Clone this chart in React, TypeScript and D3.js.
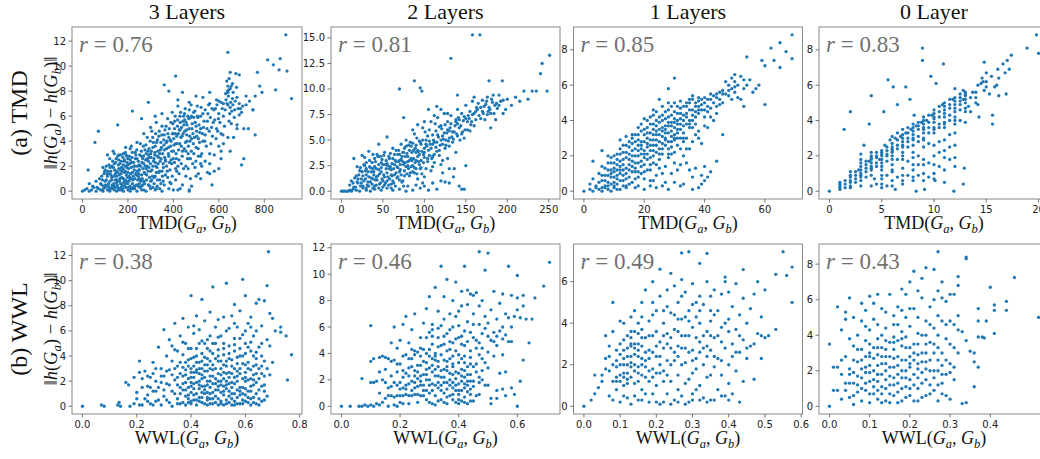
import React from "react";
import * as d3 from "d3";

// constants
const width = 1040;
const height = 459;
const dotColour = "#1f77b4";
const serif = "'Liberation Serif', 'Times New Roman', serif";
const sans = "'DejaVu Sans', sans-serif";

// column titles and row labels
const columnTitles = ["3 Layers", "2 Layers", "1 Layers", "0 Layer"];
const rowLabels = ["(a) TMD", "(b) WWL"];
const rowMetric = ["TMD", "WWL"];
const correlations = ["0.76", "0.81", "0.85", "0.83", "0.38", "0.46", "0.49", "0.43"];

// tick values per panel
const xTicksTmd3 = [0, 200, 400, 600, 800];
const xTicksTmd2 = [0, 50, 100, 150, 200, 250];
const xTicksTmd1 = [0, 20, 40, 60];
const xTicksTmd0 = [0, 5, 10, 15, 20];
const xTicksWwl3 = [0, 0.2, 0.4, 0.6, 0.8];
const xTicksWwl2 = [0, 0.2, 0.4, 0.6];
const xTicksWwl1 = [0, 0.1, 0.2, 0.3, 0.4, 0.5, 0.6];
const xTicksWwl0 = [0, 0.1, 0.2, 0.3, 0.4];
const yTicksTmd3 = [0, 2, 4, 6, 8, 10, 12];
const yTicksTmd2 = [0, 2.5, 5, 7.5, 10, 12.5, 15];
const yTicksTmd1 = [0, 2, 4, 6, 8];
const yTicksTmd0 = [0, 2, 4, 6, 8];
const yTicksWwl3 = [0, 2, 4, 6, 8, 10, 12];
const yTicksWwl2 = [0, 2, 4, 6, 8, 10, 12];
const yTicksWwl1 = [0, 2, 4, 6];
const yTicksWwl0 = [0, 2, 4, 6, 8];

// data: [graph distance, embedding distance]
const tmd3: [number, number][] = [
  [0,0],[10,0.1],[20,0.2],[30,0],[40,0.1],[50,0.3],[60,0],[70,0.2],[80,0.1],[90,0],[100,0.3],[110,0.1],[120,0],[130,0.2],[140,0.1],[150,0],[160,0.2],[170,0.1],[180,0],[190,0.3],[200,0.1],[210,0],[220,0.2],[240,0],[260,0.1],[280,0],[300,0.2],[320,0.1],[350,0],[380,0.2],[420,0.1],[470,0],
  [30,0.6],[45,0.4],[60,0.8],[75,1.0],[85,0.5],[95,1.4],[100,0.8],[105,2.0],[110,1.2],[115,0.6],[120,2.6],[125,1.6],[130,0.9],[135,3.2],[140,2.2],[145,1.4],[150,0.7],[155,2.8],[160,1.8],[165,1.0],[170,2.4],[175,0.5],[180,3.0],[185,1.5],[190,2.0],[195,0.8],[200,2.6],[205,1.2],[210,3.4],[215,1.9],[220,0.6],[225,2.3],[230,1.0],[235,2.9],[240,1.6],[245,0.4],[250,2.1],[255,3.8],[260,1.3],[265,2.6],[270,0.8],[275,3.3],[280,1.8],[285,4.3],[290,2.4],[295,1.1],[300,3.0],[305,4.8],[310,2.0],[315,0.6],[320,3.6],[325,1.5],[330,4.1],[335,2.7],[340,0.9],[345,3.9],[350,5.2],[355,2.2],[360,4.5],[365,1.3],[370,3.4],[375,5.8],[380,2.8],[385,0.7],[390,4.0],[395,6.3],[400,3.2],[405,5.0],[410,1.8],[415,4.4],[420,6.8],[425,2.5],[430,5.5],[435,3.6],[440,0.5],[445,6.0],[450,4.8],[455,2.0],[460,5.3],[465,3.0],[470,6.5],[475,1.0],[480,4.2],[490,5.9],[500,3.5],[505,6.8],[510,2.8],[520,5.0],[530,6.2],[540,4.5],[550,1.5],[560,7.0],[565,3.8],[575,5.5],[585,6.6],[595,4.8],[600,7.2],[610,3.2],[620,6.0],[630,7.8],[635,8.8],[640,6.9],[645,9.0],[650,8.2],[655,5.4],[660,7.4],[670,6.5],[675,9.4],[680,5.0],[690,7.0],[700,6.3],[720,6.9],[735,7.2],[750,6.5],
  [90,1.9],[110,2.9],[130,0.3],[150,1.2],[160,2.9],[170,0.3],[180,1.0],[185,2.5],[195,1.9],[200,1.5],[210,0.4],[220,1.5],[230,2.0],[240,2.6],[250,1.0],[260,0.4],[270,2.2],[280,3.0],[290,0.5],[300,1.6],[310,3.5],[320,2.3],[330,0.9],[340,3.0],[350,1.6],[360,3.3],[370,2.0],[380,4.3],[390,2.5],[400,4.6],[410,3.8],[420,2.0],[430,4.9],[440,3.2],[450,5.7],[460,4.0],[470,2.6],[480,6.0],[490,3.0],[500,5.2],[510,4.2],[520,2.2],[530,4.0],[540,6.5],[550,5.6],[560,3.0],[570,6.6],[580,2.9],[590,5.0],[600,6.2],[610,4.6],[620,7.0],[640,7.9],[645,5.6],[650,6.7],[660,8.6],[665,4.3],[680,7.5],[690,6.1],[640,8.4],[650,9.5],
  [895,12.5],[640,11.1],[870,10.6],[815,10.5],[840,10.1],[900,9.6],[865,9.7],[770,9.5],[410,9.2],[360,8.5],[920,7.4],[760,7.6],[790,7.9],[780,8.4],[850,8.1],[750,6.5],[760,4.5],[700,2.1],[710,2.6],[610,2.6],[650,3.2],[220,6.4],[70,4.8],[55,3.9],[25,1.7],[155,5.3],[260,5.8],[290,7.1],[380,8.0],[470,7.1],[470,0.1],[570,0.5],[520,1.0],[480,0.4],[430,0.2],[390,0.6],[690,9.3],[680,5.3],[710,5.0],[720,7.6],[730,5.0],
  [85,1.2],[95,0.4],[105,0.9],[112,1.6],[118,0.3],[122,1.9],[128,1.1],[133,2.4],[138,0.6],[142,1.7],[148,2.6],[152,0.9],[158,2.1],[162,1.3],[168,0.6],[172,1.9],[178,2.7],[182,0.7],[188,1.6],[192,2.9],[198,1.1],[202,0.3],[208,2.2],[212,1.4],[218,2.7],[222,0.9],[228,1.7],[232,3.1],[238,0.5],[242,2.0],[248,1.4],[252,2.9],[258,0.8],[262,2.3],[268,3.6],[272,1.5],[278,2.5],[282,0.9],[288,3.2],[292,1.9],[298,4.0],[302,2.7],[308,1.2],[312,3.9],[318,2.9],[322,4.6],[328,1.9],[332,3.2],[338,4.8],[342,2.4],[348,3.5],[352,1.2],[358,4.1],[362,2.7],[368,5.2],[372,4.0],[378,3.0],[382,5.0],[388,3.6],[392,2.2],[398,5.4],[402,4.2],[408,6.0],[412,3.0],[418,5.2],[422,4.6],[428,3.8],[432,6.3],[438,4.4],[442,5.6],[448,3.4],[452,6.6],[458,4.9],[462,2.6],[468,5.8],[472,4.4],[478,6.9],[482,5.0],[488,3.8],[495,6.4],[502,4.8],[508,5.9],[515,3.9],[522,6.7],[528,4.6],[535,5.6],[545,3.6],[552,6.2],[558,4.8],[568,5.1],[578,6.5],[588,4.2],[598,5.8],[615,6.6],[625,5.2],[632,7.3],[638,8.0],[642,7.6],[648,6.2],[655,8.4],[662,6.9],[668,5.9],
  [120,0.1],[140,0.4],[160,0.1],[190,0.6],[230,0.2],[250,0.6],[270,0.1],[310,0.3],[340,0.2],[360,0.5],[400,0.1],[200,2.1],[210,2.5],[170,1.4],[180,2.1],[250,1.7],[260,2.8],[290,2.9],[300,0.8],[320,1.2],[330,2.8],[80,0.6],[65,0.3],[100,1.7],[140,3.0],[165,2.2],[190,3.5],[215,3.6],[240,3.9],[270,4.6],[300,5.1],[325,5.5],[350,6.2],[320,6.0],[420,7.3],[440,7.9],[500,7.6],[530,7.5],[560,7.9],[590,7.3],[610,7.1],[600,1.8],[560,1.4],[520,2.8],[495,1.9],[455,1.2],[410,0.9],
  [88,0.9],[92,0.2],[98,1.6],[102,0.5],[108,1.4],[113,0.4],[117,2.1],[121,0.8],[126,1.3],[131,0.5],[136,1.9],[139,1.2],[143,0.3],[146,2.3],[149,1.6],[153,0.5],[156,1.5],[159,2.5],[163,0.8],[166,1.7],[169,2.9],[173,1.1],[176,0.2],[179,1.8],[183,2.4],[186,0.9],[189,3.1],[193,1.3],[196,2.3],[199,0.6],[203,1.8],[206,2.8],[209,1.0],[213,0.2],[216,2.3],[219,3.1],[223,1.2],[226,2.0],[229,0.4],[233,2.6],[236,1.3],[239,3.3],[243,0.9],[246,2.4],[249,1.7],[253,0.3],[256,2.0],[259,3.2],[263,1.0],[266,1.8],[269,2.8],[273,0.6],[276,2.0],[279,3.7],[283,1.3],[286,2.6],[289,1.6],[293,3.4],[296,0.4],[299,2.2],[303,3.2],[306,1.7],[309,4.3],[313,2.4],[316,1.1],[319,3.1],[323,2.0],[326,3.9],[329,0.4],[333,2.2],[336,4.4],[339,1.6],[343,3.3],[346,2.6],[349,4.5],[353,3.0],[356,1.9],[359,3.7],[363,4.9],[366,2.4],[369,3.9],[373,1.6],[376,4.6],[379,3.5],[383,2.3],[386,4.1],[389,5.5],[393,3.2],[396,4.6],[399,2.6],[403,3.7],[406,5.6],[409,4.6],[413,2.6],[416,3.8],[419,5.7],[423,3.3],[426,4.9],[429,6.0],[433,4.3],[436,5.1],[439,2.8],[443,4.6],[446,5.3],[449,6.2],[453,3.9],[456,5.5],[459,4.5],[463,6.0],[466,3.6],[469,5.0],[473,4.0],[476,5.9],[479,3.2],[483,5.4],[486,4.6],[489,6.3],[493,4.3],[496,5.5],[499,2.4],[503,4.4],[506,6.0],[509,3.4],[513,5.3],[516,4.7],[520,6.0],[525,3.0],[532,5.1],[538,4.0],[548,5.0],[555,6.9],[563,5.9],[572,4.4],[582,5.7],[592,6.9],[605,5.5],[618,4.5],[628,6.5],[636,7.0],[644,8.1],[652,7.1],[657,6.4],[663,7.9],[672,7.2],[678,8.3],[685,6.6],[695,6.6],[705,6.8],
  [120,1.4],[130,2.0],[145,0.9],[155,0.3],[175,1.6],[185,0.4],[195,2.8],[205,0.8],[215,1.0],[225,0.3],[235,1.4],[245,1.2],[255,0.9],[265,0.5],[275,1.4],[285,2.0],[295,2.7],[305,0.9],[315,2.6],[325,0.2],[335,1.5],[345,0.6],[355,0.8],[365,2.5],[375,1.1],[385,1.7],[395,1.2],[405,2.3],[415,1.6],[425,1.4],[435,2.2],[445,1.8],[455,3.2],[465,1.8],[475,2.6],[485,2.2],[500,1.2],[510,1.4],[525,2.0],[540,2.4],[560,2.2],[580,1.6],[600,3.6],[620,3.8],[640,4.3],
];

const tmd2: [number, number][] = [
  [0,0],[2,0],[4,0],[6,0],[8,0],[10,0.1],[12,0],[14,0.2],[18,0.1],[22,0],[26,0.3],[30,0.1],[35,0],[40,0.2],[48,0.1],[55,0.3],[62,0.1],[70,0.2],[78,0],[86,0.1],[95,0.3],[105,0.1],[115,0.2],
  [10,0.6],[12,1.0],[15,0.4],[18,1.5],[20,0.8],[22,2.0],[24,1.2],[26,0.5],[28,2.5],[30,1.6],[32,0.9],[34,3.0],[36,1.9],[38,1.2],[40,2.4],[42,0.6],[44,3.4],[46,1.7],[48,2.8],[50,1.0],[52,3.8],[54,2.2],[56,1.4],[58,3.2],[60,0.7],[62,4.2],[64,2.6],[66,1.8],[68,3.6],[70,1.1],[72,4.6],[74,2.9],[76,2.0],[78,5.0],[80,3.4],[82,1.5],[84,4.4],[86,2.5],[88,5.6],[90,3.8],[92,1.2],[94,4.9],[96,3.0],[98,6.2],[100,4.2],[102,2.2],[104,5.4],[106,3.5],[108,6.8],[110,4.6],[112,2.8],[114,5.9],[116,7.2],[118,4.0],[120,6.4],[122,3.0],[124,7.6],[126,5.0],[128,6.8],[130,4.4],[132,7.4],[134,5.8],[136,2.2],[138,7.0],[140,8.0],[142,6.2],[145,7.6],[148,5.2],[150,8.4],[152,6.8],[155,7.8],[158,8.8],[160,6.4],[163,8.2],[166,7.4],[170,8.9],[173,7.0],[176,9.2],[178,8.2],[180,7.6],[183,9.4],[186,7.0],[190,8.4],[195,7.6],[200,9.0],[210,9.2],[225,9.0],
  [25,1.9],[30,2.8],[35,0.9],[38,2.2],[42,1.4],[45,0.3],[48,1.9],[52,0.6],[55,2.7],[58,1.2],[60,2.1],[62,3.2],[65,0.5],[68,2.3],[70,3.0],[72,1.6],[75,3.8],[78,2.4],[80,0.5],[82,4.0],[85,3.0],[88,1.8],[90,4.5],[92,3.4],[95,2.2],[98,0.8],[100,3.3],[102,5.0],[105,4.0],[108,2.0],[110,5.5],[112,3.6],[115,4.8],[118,6.3],[120,2.6],[122,5.4],[125,4.2],[128,3.2],[130,5.9],[135,5.1],[138,3.8],[140,6.6],[145,5.6],[150,7.1],[155,5.9],[160,7.6],[165,8.6],[170,7.8],[175,8.8],[180,6.2],[185,8.4],[190,9.4],
  [158,15.3],[167,15.3],[132,13.0],[251,13.3],[242,12.5],[240,11.5],[248,9.8],[88,10.8],[70,10.0],[95,10.1],[97,9.8],[194,10.8],[178,10.8],[220,9.8],[230,9.8],[235,9.8],[140,9.4],[160,9.2],[115,8.3],[105,8.0],[75,7.2],[55,5.3],[45,4.6],[15,3.2],[25,3.5],[120,1.0],[130,0.8],[135,1.4],[148,0.2],[145,0.2],[142,0.5],[150,2.5],
  [20,1.2],[23,0.5],[27,1.0],[29,2.0],[31,0.6],[33,1.4],[35,2.3],[37,0.7],[39,1.6],[41,2.9],[43,1.1],[45,2.1],[47,0.8],[49,3.1],[51,1.6],[53,2.6],[55,1.0],[57,3.4],[59,2.4],[61,1.5],[63,0.8],[64,3.6],[66,2.9],[67,1.3],[69,4.0],[71,2.6],[73,3.4],[74,1.0],[76,4.2],[77,2.8],[79,3.7],[81,2.2],[83,4.8],[84,3.2],[86,1.9],[87,4.0],[89,2.8],[91,5.2],[93,3.9],[94,2.6],[96,4.6],[97,1.7],[99,3.6],[101,5.8],[103,4.4],[104,2.9],[106,6.0],[107,4.6],[109,3.2],[111,5.0],[113,6.6],[115,3.9],[117,5.3],[119,4.5],[121,6.1],[123,5.1],[125,6.5],[127,5.7],[129,4.9],[131,6.2],[133,5.3],[137,6.4],[139,5.6],[141,7.2],[143,5.0],[147,6.9],[149,6.0],[153,7.4],[157,6.8],[162,7.0],[168,8.2],[172,8.3],[177,7.8],[182,8.7],[188,8.1],[195,8.9],[205,8.4],[215,8.8],
  [30,0.3],[40,0.5],[50,0.4],[60,0.3],[75,0.5],[90,0.6],[100,0.5],[110,0.8],[125,0.9],[70,1.9],[80,2.9],[90,2.2],[100,1.4],[110,2.4],[122,1.8],[130,2.2],[112,7.4],[100,6.8],[92,6.5],[86,6.0],[120,8.0],[128,7.6],[38,3.6],[28,3.3],[33,3.9],[19,2.4],
  [14,0.8],[16,1.3],[17,0.4],[19,0.9],[21,1.6],[23,2.3],[24,0.8],[26,1.5],[27,2.6],[29,1.2],[30,2.2],[32,1.9],[33,0.5],[34,2.4],[36,1.3],[37,2.8],[38,0.3],[39,1.9],[40,3.2],[41,1.1],[42,2.2],[43,3.6],[44,1.5],[45,2.6],[46,0.7],[47,3.4],[48,2.3],[49,1.2],[50,2.6],[51,3.5],[52,1.4],[53,0.8],[54,3.0],[55,1.8],[56,2.5],[57,0.6],[58,2.2],[59,3.7],[60,1.6],[61,2.7],[62,1.0],[63,2.2],[64,1.6],[65,3.0],[66,4.0],[67,2.4],[68,1.4],[69,2.9],[70,3.6],[71,2.1],[72,3.1],[73,0.9],[74,3.8],[75,2.6],[76,1.5],[77,3.4],[78,4.4],[79,1.7],[80,2.5],[81,4.5],[82,3.0],[83,1.8],[84,2.4],[85,3.8],[86,4.7],[87,3.2],[88,2.3],[89,4.2],[90,3.0],[91,1.7],[92,4.0],[93,2.9],[94,3.6],[95,4.8],[96,2.3],[97,3.9],[98,5.0],[99,2.8],[100,3.8],[102,4.6],[104,3.2],[106,4.9],[108,4.2],[110,3.4],[112,4.8],[114,4.3],[116,5.5],[118,3.5],[120,5.0],[122,4.6],[124,5.7],[126,4.5],[128,6.0],[130,5.2],[132,6.6],[134,4.8],[136,5.8],[138,6.8],[140,5.4],[142,7.0],[144,6.4],[146,5.8],[148,7.3],[152,6.0],[154,7.1],[156,6.5],[158,7.5],[162,7.8],[164,8.0],[168,7.1],[171,7.6],[174,8.5],[176,7.5],[179,8.0],[181,9.0],[184,7.6],[187,8.6],[192,8.8],[198,8.0],
];

const tmd1: [number, number][] = [
  [0,0],[2,0.1],[3,0],[4,0.2],[5,0.1],[6,0],[7,0.2],[8,0.1],[9,0],[10,0.2],[12,0.1],[14,0.3],[17,0.2],[20,0.1],[24,0.2],[28,0.1],[32,0.3],[36,0.1],
  [2,0.4],[3,0.7],[4,0.3],[5,1.0],[6,0.6],[6,1.4],[7,0.9],[8,1.6],[8,0.5],[9,1.2],[10,0.8],[10,2.0],[11,1.5],[11,0.4],[12,2.4],[12,1.0],[13,1.8],[13,0.6],[14,2.6],[14,1.3],[15,2.1],[15,0.8],[16,3.0],[16,1.7],[17,2.4],[17,1.1],[18,3.2],[18,2.0],[19,2.8],[19,1.4],[20,3.5],[20,2.3],[20,0.7],[21,3.0],[21,1.8],[22,3.8],[22,2.6],[22,1.2],[23,3.2],[23,2.0],[24,4.0],[24,2.9],[24,1.5],[25,3.5],[25,2.4],[26,4.3],[26,3.1],[26,1.0],[27,3.7],[27,2.6],[28,4.2],[28,3.3],[28,1.9],[29,3.9],[29,2.8],[30,4.5],[30,3.6],[30,2.2],[31,4.0],[31,3.0],[32,4.7],[32,3.5],[32,1.5],[33,4.3],[33,2.8],[34,5.0],[34,3.8],[35,4.6],[35,2.4],[36,5.2],[36,4.0],[37,4.8],[37,3.2],[38,5.1],[38,4.4],[39,2.7],[40,5.0],[40,4.6],[41,3.6],[42,5.2],[42,4.2],[43,5.4],[44,4.8],[45,5.6],[46,5.0],[47,6.2],[48,5.4],[49,6.4],[50,6.6],[50,5.6],[52,6.5],[53,5.8],[54,6.0],[55,6.3],[57,5.8],[58,6.0],[51,6.0],[48,6.0],
  [7,0.3],[9,0.8],[10,1.3],[11,0.9],[12,1.7],[13,1.2],[14,0.7],[15,1.5],[16,2.3],[16,0.5],[17,1.6],[18,2.6],[18,0.8],[19,2.1],[20,1.5],[21,2.5],[22,1.9],[23,2.6],[23,0.6],[24,3.4],[25,1.8],[26,2.7],[27,3.3],[27,1.4],[28,2.4],[29,3.4],[29,1.0],[30,2.9],[31,3.5],[31,1.2],[32,2.4],[33,3.7],[34,3.0],[35,3.6],[36,2.8],[37,4.2],[38,3.4],[39,4.6],[40,3.7],[41,4.8],[43,4.0],[44,5.3],[46,5.5],[36,0.8],[34,1.6],[33,0.4],[37,1.3],
  [69,8.85],[65,8.4],[62,8.1],[67,7.9],[69,7.5],[54,7.6],[59,7.4],[60,7.1],[63,7.4],[65,7.0],[60,4.9],[52,5.2],[53,4.8],[44,1.7],[40,0.6],[38,0.2],[39,0.4],[3,1.7],[6,2.3],[30,6.4],[28,5.8],[23,4.6],[25,5.2],[46,3.2],[42,1.1],[39,0.9],
  [5,0.5],[6,0.9],[7,1.3],[8,0.9],[8,2.0],[9,0.4],[9,1.6],[10,0.5],[10,1.6],[11,1.2],[11,2.1],[12,0.6],[12,1.4],[12,2.9],[13,0.9],[13,2.2],[14,1.9],[14,3.1],[15,1.2],[15,2.5],[15,0.4],[16,1.1],[16,2.7],[17,2.0],[17,3.2],[17,0.7],[18,1.6],[18,2.9],[19,1.0],[19,3.4],[19,2.4],[20,1.9],[20,2.8],[20,4.1],[21,1.2],[21,2.1],[21,3.6],[22,2.3],[22,3.3],[22,0.6],[23,1.6],[23,2.9],[23,3.8],[24,2.2],[24,3.7],[24,0.9],[25,2.8],[25,3.9],[25,1.3],[26,2.1],[26,3.6],[26,4.8],[27,2.9],[27,4.1],[27,0.5],[28,3.7],[28,2.1],[28,4.6],[29,3.1],[29,4.3],[29,2.1],[30,3.2],[30,4.1],[30,1.6],[31,3.8],[31,4.4],[31,2.6],[32,4.1],[32,3.0],[33,3.3],[33,4.8],[34,4.4],[34,2.4],[35,4.0],[35,5.0],[36,4.6],[36,3.6],[37,5.0],[37,3.8],[38,4.8],[38,3.0],[39,5.2],[40,4.2],[41,5.2],[42,4.7],[43,5.0],[44,4.4],[45,5.2],[47,5.5],[49,5.8],[51,5.3],[53,6.3],[56,5.6],[40,1.4],[41,0.8],[35,1.2],[33,2.0],[30,0.5],[26,0.3],[22,0.3],[18,0.3],[14,0.2],[11,0.1],
  [6,0.2],[7,0.6],[8,1.2],[8,0.3],[9,1.0],[9,1.9],[10,1.1],[10,0.3],[11,1.8],[11,0.7],[12,2.1],[12,1.2],[13,1.5],[13,2.6],[13,0.3],[14,1.0],[14,2.2],[15,1.8],[15,2.8],[16,1.4],[16,2.0],[16,3.2],[17,1.3],[17,2.8],[18,2.3],[18,1.1],[18,3.6],[19,1.7],[19,2.6],[19,3.8],[20,2.1],[20,3.2],[20,1.1],[21,2.7],[21,3.3],[21,4.0],[22,2.9],[22,1.5],[22,4.2],[23,2.3],[23,3.5],[23,4.3],[24,2.6],[24,3.2],[24,4.5],[25,2.1],[25,3.2],[25,4.2],[26,2.4],[26,3.4],[26,4.0],[27,3.0],[27,3.5],[27,4.5],[28,2.8],[28,3.9],[28,5.0],[29,2.5],[29,3.7],[29,4.8],[30,3.0],[30,3.9],[30,5.0],[31,3.3],[31,4.8],[32,3.8],[32,4.4],[32,5.1],[33,3.0],[33,4.0],[34,4.2],[34,4.8],[35,3.8],[35,5.2],[36,4.3],[36,5.4],[37,4.5],[38,4.6],[38,5.3],[39,4.9],[40,5.3],[41,4.5],[42,5.5],[44,5.5],[45,4.9],[46,5.7],[48,5.7],[49,5.2],[50,6.2],[50,5.9],
];

const tmd0: [number, number][] = [
  [0,0],[1.4,3.5],[2,4.5],[3.8,3.8],[4,5.4],[5.2,4.5],[5.6,6.3],[6.1,5.9],[7.3,5.9],[6.5,4.9],[7.7,5.2],[8.9,8.1],[8.9,7.4],[10.9,7.2],[9.7,6.5],[10.2,6.1],[12,5.8],[8.1,4.3],[20,7.8],[19.8,8.85],[18.9,8.1],[17.4,7.7],[17,7.4],[16.6,7.2],[16.1,6.9],[14.8,7.3],[15.6,4.3],[15.6,3.8],[14.3,4.2],[16.9,5.5],[12.8,0.4],[12.9,1.3],[12,1.4],[11.9,0],[11,0.5],[10.1,0.6],[9.1,0.1],[8.3,0],[6.3,0.1],[10.5,1.4],[11.5,1.8],
  [1,0.1],[1,0.3],[1,0.5],[1.5,0.2],[1.5,0.6],[2,0.3],[2,0.6],[2,0.9],[2,1.1],[2.5,0.5],[2.5,0.9],[2.8,1.2],[3,0.6],[3,1.0],[3,1.4],[3,1.8],[3.3,2.6],[3.5,0.8],[3.5,1.3],[3.8,1.7],[4,0.3],[4,1.2],[4,1.6],[4,2.0],[4.3,0.7],[4.5,1.4],[4.5,2.2],[4.8,1.8],[5,0.4],[5,1.2],[5,2.0],[5,2.3],[5.3,2.6],[5.5,0.9],[5.5,1.7],[5.5,2.3],[5.8,2.9],[6,0.6],[6,1.5],[6,2.3],[6,2.7],[6.3,3.0],[6.5,0.8],[6.5,1.8],[6.5,2.6],[6.8,3.1],[7,0.4],[7,1.3],[7,2.2],[7,2.8],[7.3,3.3],[7.5,1.7],[7.5,2.5],[7.5,3.0],[7.8,3.5],[8,0.8],[8,1.5],[8,2.2],[8,3.2],[8.3,3.7],[8.5,0.9],[8.5,2.0],[8.5,2.8],[8.5,3.5],[8.8,3.9],[9,1.0],[9,2.5],[9,3.3],[9,3.8],[9.3,4.0],[9.5,1.6],[9.5,2.7],[9.5,3.6],[9.8,4.3],[10,0.7],[10,2.0],[10,3.3],[10,3.9],[10,4.6],[10.5,2.8],[10.5,3.8],[10.5,4.5],[10.8,4.9],[11,1.2],[11,2.3],[11,3.6],[11,4.2],[11,5.0],[11.5,3.2],[11.5,4.0],[11.5,4.7],[11.8,5.2],[12,2.6],[12,3.8],[12,4.5],[12,5.3],[12.5,4.0],[12.5,4.9],[12.5,5.5],[12.8,5.7],[13,3.9],[13,5.0],[13,5.4],[13.5,4.5],[13.5,5.3],[14,5.0],[14.5,6.1],[14.6,6.4],[14.7,6.2],[15,6.2],[15.3,5.5],[15.8,5.9],[16,6.0],[16.2,5.4],[16.8,6.7],[14.2,6.0],[13.3,4.8],[15,6.7],[16.2,6.4],[17.2,6.9],
  [1,0.2],[1,0.4],[2,0.2],[2,0.5],[2,0.8],[3,0.8],[3,1.2],[3,1.6],[3,2.1],[4,0.9],[4,1.4],[4,1.8],[4,2.2],[5,0.7],[5,1.6],[5,1.8],[5,2.1],[6,1.1],[6,2.0],[6,2.5],[6,3.1],[7,1.8],[7,2.5],[7,3.0],[7,3.5],[8,1.9],[8,2.6],[8,3.4],[8,3.8],[9,1.5],[9,2.9],[9,3.6],[9,4.2],[10,1.5],[10,2.6],[10,3.6],[10,4.2],[11,2.9],[11,3.9],[11,4.6],[12,3.3],[12,4.2],[12,4.9],[13,4.5],[13,5.2],[13,5.6],[14,5.3],[14,5.6],[6.5,3.3],[7.5,3.6],[8.5,3.9],[9.5,4.3],[10.5,4.8],[11.5,5.2],[12.5,5.3],[3.5,1.7],[4.5,2.0],[5.5,2.5],[2.5,1.1],[7.5,0.9],[8.5,1.5],[9.5,0.8],[10.5,2.2],[11.5,2.5],[12,1.9],[6,0.3],[5.5,0.3],[4.5,0.4],[8,0.6],[7,0.6],[15,5.9],[14.8,5.7],[15.5,6.5],[13.7,5.6],[14.2,4.9],[12.8,5.2],
  [1.5,0.4],[2.5,0.7],[3,0.9],[3.5,1.1],[3.5,1.5],[4,1.3],[4,1.9],[4.5,1.6],[4.5,1.9],[5,1.4],[5,2.2],[5.5,2.0],[5.5,2.1],[6,1.8],[6,2.2],[6,2.4],[6.5,2.4],[6.5,2.9],[7,2.0],[7,2.6],[7,3.2],[7.5,2.8],[7.5,3.3],[8,2.9],[8,3.0],[8,3.6],[8.5,3.1],[8.5,3.7],[9,3.0],[9,3.5],[9,4.0],[9.5,3.3],[9.5,3.9],[10,3.5],[10,4.1],[10,4.4],[10.5,3.6],[10.5,4.2],[11,3.8],[11,4.4],[11,4.8],[11.5,4.3],[11.5,4.9],[12,4.0],[12,4.7],[12,5.1],[12.5,4.6],[12.5,5.1],[13,4.7],[13,5.5],[3,0.3],[5,0.9],[7,0.9],[9,0.6],[5,0.2],[6,1.2],[8,1.2],[9,1.8],[10,1.0],[11,1.9],
];

const wwl3: [number, number][] = [
  [0,0],[0.07,0.1],[0.08,0],[0.13,0.1],[0.135,0.3],[0.14,0],[0.175,0],[0.16,1.9],[0.17,1.7],[0.19,2.3],[0.21,3.6],[0.2,1.1],[0.2,0.6],[0.19,0.2],[0.21,0.1],
  [0.22,0.1],[0.23,2.8],[0.24,0.9],[0.24,1.6],[0.25,0.2],[0.25,2.3],[0.26,3.5],[0.26,1.2],[0.27,0.4],[0.27,2.0],[0.28,4.7],[0.28,1.5],[0.29,0.1],[0.29,3.0],[0.30,6.1],[0.30,2.4],[0.30,0.8],[0.31,1.8],[0.31,4.0],[0.32,0.3],[0.32,2.9],[0.32,5.3],[0.33,1.2],[0.33,3.6],[0.33,0],[0.34,2.1],[0.34,6.6],[0.34,4.5],[0.35,0.6],[0.35,1.7],[0.35,3.2],[0.36,5.6],[0.36,2.6],[0.36,0.2],[0.37,4.1],[0.37,1.3],[0.37,7.0],[0.38,0.8],[0.38,2.9],[0.38,5.0],[0.38,1.9],[0.39,3.7],[0.39,0.3],[0.39,6.3],[0.40,2.3],[0.40,8.8],[0.40,4.6],[0.40,1.1],[0.41,0.5],[0.41,3.2],[0.41,5.8],[0.41,1.8],[0.42,2.7],[0.42,7.2],[0.42,0.1],[0.42,4.0],[0.43,1.4],[0.43,3.5],[0.43,6.1],[0.43,0.7],[0.44,2.2],[0.44,5.2],[0.44,8.5],[0.44,0.3],[0.45,3.9],[0.45,1.6],[0.45,6.8],[0.45,2.8],[0.46,0.5],[0.46,4.6],[0.46,1.1],[0.46,3.3],[0.47,5.6],[0.47,0.2],[0.47,2.4],[0.47,7.5],[0.48,1.8],[0.48,4.2],[0.48,9.5],[0.48,0.6],[0.49,3.0],[0.49,6.3],[0.49,1.3],[0.49,5.0],[0.50,0.1],[0.50,2.6],[0.50,4.5],[0.50,6.9],[0.51,1.7],[0.51,3.6],[0.51,0.4],[0.51,5.6],[0.52,2.2],[0.52,7.1],[0.52,0.9],[0.52,4.1],[0.53,3.2],[0.53,9.8],[0.53,1.4],[0.53,6.0],[0.54,0.3],[0.54,2.7],[0.54,4.8],[0.55,1.9],[0.55,7.2],[0.55,3.7],[0.55,0.6],[0.56,5.4],[0.56,2.3],[0.56,8.1],[0.56,1.0],[0.57,3.9],[0.57,0.2],[0.57,6.3],[0.57,2.8],[0.58,4.6],[0.58,1.5],[0.58,7.6],[0.59,0.5],[0.59,3.4],[0.59,10.1],[0.59,5.7],[0.60,2.0],[0.60,8.8],[0.60,0.9],[0.60,4.2],[0.61,6.6],[0.61,3.0],[0.61,0.3],[0.62,1.6],[0.62,5.1],[0.62,7.1],[0.63,2.5],[0.63,4.0],[0.63,0.7],[0.64,6.0],[0.64,3.3],[0.64,8.2],[0.65,1.3],[0.65,4.7],[0.65,8.5],[0.66,0.4],[0.66,2.6],[0.66,6.4],[0.67,3.6],[0.67,1.7],[0.67,8.4],[0.68,5.3],[0.68,0.8],[0.68,9.6],[0.685,12.3],[0.69,2.5],[0.69,7.4],[0.69,4.8],[0.70,3.5],[0.70,7.0],[0.71,6.0],[0.73,6.3],[0.73,5.9],[0.75,5.6],[0.77,4.1],[0.755,2.1],
  [0.36,1.0],[0.37,2.4],[0.38,0.1],[0.39,1.5],[0.40,0.4],[0.40,3.0],[0.41,2.3],[0.42,1.0],[0.43,2.0],[0.44,1.1],[0.44,3.0],[0.45,0.2],[0.46,2.0],[0.47,1.0],[0.47,3.6],[0.48,2.4],[0.49,0.3],[0.50,1.3],[0.51,2.5],[0.52,0.1],[0.53,2.0],[0.54,1.2],[0.55,0.1],[0.56,3.0],[0.57,1.3],[0.58,0.2],[0.59,2.2],[0.60,3.3],[0.61,1.2],[0.62,0.1],[0.63,3.2],[0.64,1.9],[0.65,0.1],[0.66,4.0],[0.67,0.5],[0.34,1.0],[0.33,2.5],[0.31,0.5],[0.29,1.9],[0.27,3.0],[0.26,0.1],[0.24,0.4],[0.22,1.5],[0.23,0.6],[0.21,2.7],[0.22,2.2],
  [0.35,2.3],[0.36,1.5],[0.37,0.3],[0.37,3.1],[0.38,1.3],[0.38,3.5],[0.39,2.2],[0.39,0.9],[0.40,1.6],[0.40,2.7],[0.41,0.9],[0.41,3.9],[0.42,1.9],[0.42,2.9],[0.43,0.4],[0.43,2.6],[0.44,1.6],[0.44,3.6],[0.45,1.0],[0.45,2.3],[0.46,0.1],[0.46,2.8],[0.47,1.5],[0.47,3.0],[0.48,0.2],[0.48,2.9],[0.49,1.8],[0.49,3.8],[0.50,0.6],[0.50,2.0],[0.51,1.1],[0.51,3.0],[0.52,1.6],[0.52,3.3],[0.53,0.5],[0.53,2.6],[0.54,1.8],[0.54,3.8],[0.55,1.0],[0.55,2.6],[0.56,0.4],[0.56,4.4],[0.57,2.0],[0.57,3.4],[0.58,0.9],[0.58,2.6],[0.59,1.5],[0.59,4.0],[0.60,0.4],[0.60,2.7],[0.61,2.1],[0.61,4.7],[0.62,0.6],[0.62,2.9],[0.63,1.7],[0.63,5.6],[0.64,0.2],[0.64,2.6],[0.65,3.0],[0.66,1.6],[0.67,2.4],[0.68,3.0],[0.45,5.0],[0.47,4.4],[0.50,5.5],[0.52,5.0],[0.54,6.2],[0.56,6.6],[0.58,5.4],[0.60,6.0],[0.62,6.3],[0.39,4.6],[0.37,5.1],[0.41,6.4],[0.43,5.0],[0.35,4.4],[0.33,4.8],[0.31,2.8],[0.29,2.4],[0.27,1.2],[0.25,1.5],[0.30,1.3],[0.32,1.7],[0.34,3.0],[0.28,0.5],[0.24,2.4],[0.26,2.6],
  [0.35,0.2],[0.36,3.5],[0.37,1.8],[0.38,2.5],[0.39,0.6],[0.39,3.2],[0.40,1.9],[0.40,0.2],[0.41,2.7],[0.41,1.4],[0.42,0.5],[0.42,3.5],[0.43,1.7],[0.43,3.0],[0.44,0.7],[0.44,2.5],[0.45,1.3],[0.45,3.3],[0.46,0.7],[0.46,1.7],[0.46,3.8],[0.47,0.6],[0.47,2.0],[0.48,1.1],[0.48,3.3],[0.49,0.8],[0.49,2.2],[0.50,1.6],[0.50,3.6],[0.51,0.2],[0.51,2.0],[0.52,1.2],[0.52,2.7],[0.53,0.2],[0.53,1.7],[0.53,3.6],[0.54,0.8],[0.54,2.3],[0.55,1.5],[0.55,3.2],[0.56,0.1],[0.56,1.8],[0.57,0.7],[0.57,2.4],[0.58,1.2],[0.58,3.0],[0.59,0.2],[0.59,1.0],[0.60,1.4],[0.60,2.3],[0.61,0.7],[0.61,3.5],[0.62,1.2],[0.62,2.2],[0.63,0.3],[0.63,2.1],[0.64,1.0],[0.64,3.8],[0.65,2.2],[0.65,0.6],[0.66,3.2],[0.67,1.2],[0.40,3.8],[0.42,4.6],[0.44,4.2],[0.46,5.3],[0.48,5.0],[0.50,4.0],[0.52,4.6],[0.54,4.2],[0.56,4.9],[0.58,4.0],[0.60,5.0],[0.62,4.4],[0.64,4.3],[0.66,5.0],
];

const wwl2: [number, number][] = [
  [0,0],[0.03,0],[0.06,0],[0.07,0],[0.08,0.1],[0.09,0],[0.10,0.1],[0.11,0],[0.12,0.2],[0.13,0.1],[0.14,0.3],[0.16,0],[0.18,0.1],[0.19,0],[0.21,0.2],
  [0.07,2.1],[0.10,6.1],[0.10,3.4],[0.10,1.8],[0.11,3.6],[0.12,1.9],[0.13,3.7],[0.13,1.0],[0.14,2.0],[0.14,3.8],[0.15,0.6],[0.15,2.8],[0.16,3.6],[0.16,1.4],[0.17,0.8],[0.17,2.3],[0.17,4.8],[0.18,3.5],[0.18,1.8],[0.18,6.0],[0.19,0.8],[0.19,2.6],[0.19,4.4],[0.20,1.3],[0.20,3.2],[0.20,5.0],[0.20,0.3],[0.21,2.2],[0.21,6.2],[0.21,0.8],[0.22,3.9],[0.22,1.6],[0.22,6.8],[0.23,0.8],[0.23,2.9],[0.23,4.8],[0.23,0.2],[0.24,1.9],[0.24,3.6],[0.24,5.8],[0.25,0.9],[0.25,7.0],[0.25,2.7],[0.25,4.2],[0.26,0.3],[0.26,1.5],[0.26,3.1],[0.27,5.2],[0.27,0.8],[0.27,2.3],[0.28,4.3],[0.28,6.3],[0.28,1.2],[0.29,3.3],[0.29,7.4],[0.29,0.5],[0.29,2.0],[0.30,5.6],[0.30,8.3],[0.30,3.8],[0.30,1.0],[0.31,2.6],[0.31,4.7],[0.31,0.2],[0.31,6.2],[0.32,1.6],[0.32,3.5],[0.32,9.0],[0.32,0.8],[0.33,5.2],[0.33,2.3],[0.33,7.2],[0.33,0.4],[0.34,3.9],[0.34,10.6],[0.34,1.2],[0.34,6.1],[0.35,2.8],[0.35,8.3],[0.35,4.7],[0.35,0.3],[0.36,1.8],[0.36,5.5],[0.36,3.4],[0.36,9.6],[0.37,0.8],[0.37,7.0],[0.37,2.5],[0.37,4.3],[0.38,6.0],[0.38,1.4],[0.38,8.0],[0.38,3.2],[0.39,0.3],[0.39,5.1],[0.39,9.4],[0.39,2.1],[0.40,3.9],[0.40,7.2],[0.40,0.9],[0.40,6.1],[0.41,8.7],[0.41,2.8],[0.41,4.7],[0.41,0.4],[0.42,10.6],[0.42,5.7],[0.42,1.7],[0.42,3.3],[0.43,7.7],[0.43,0.2],[0.43,2.4],[0.43,6.4],[0.44,4.2],[0.44,8.5],[0.44,1.3],[0.45,5.2],[0.45,3.0],[0.45,7.0],[0.46,0.8],[0.46,8.6],[0.46,4.4],[0.47,11.7],[0.47,2.2],[0.47,6.2],[0.48,3.6],[0.48,5.5],[0.48,8.0],[0.49,10.3],[0.49,1.6],[0.49,6.8],[0.50,11.6],[0.50,4.1],[0.50,2.9],[0.50,5.3],[0.51,0.6],[0.51,7.3],[0.51,0.2],[0.52,3.8],[0.52,8.7],[0.52,5.6],[0.53,6.6],[0.53,1.2],[0.53,4.6],[0.54,7.8],[0.54,2.5],[0.55,3.9],[0.55,5.1],[0.55,8.5],[0.55,1.3],[0.56,0.8],[0.56,7.0],[0.56,2.6],[0.57,10.6],[0.57,4.9],[0.57,6.7],[0.58,1.4],[0.58,8.4],[0.58,4.9],[0.59,6.8],[0.59,0.9],[0.60,9.9],[0.60,0],[0.60,8.2],[0.61,1.9],[0.61,6.7],[0.62,3.5],[0.62,8.4],[0.63,6.6],[0.64,4.8],[0.65,6.6],[0.66,8.2],[0.69,9.1],[0.71,10.9],[0.53,0.6],
  [0.16,0.8],[0.18,0.7],[0.20,0.8],[0.22,0.9],[0.24,0.8],[0.26,0.9],[0.28,0.8],[0.30,0.3],[0.32,0.1],[0.34,0.5],[0.36,0.2],[0.38,0.5],[0.40,0.2],[0.42,0.3],[0.44,0.4],[0.35,1.8],[0.38,2.4],[0.40,1.7],[0.42,2.2],[0.44,1.9],[0.33,3.0],[0.31,3.6],[0.29,2.8],[0.27,3.8],[0.25,3.9],[0.24,4.3],[0.26,4.1],
  [0.15,1.8],[0.17,1.5],[0.19,1.6],[0.21,1.4],[0.23,1.7],[0.25,1.8],[0.27,1.6],[0.29,1.2],[0.31,1.7],[0.33,1.4],[0.35,1.0],[0.37,1.6],[0.39,1.2],[0.41,1.9],[0.43,1.1],[0.45,1.5],[0.47,0.9],[0.28,2.4],[0.30,2.0],[0.32,2.8],[0.34,2.2],[0.36,2.7],[0.38,3.0],[0.40,2.5],[0.42,3.8],[0.44,3.2],[0.46,2.6],[0.48,2.0],[0.50,1.6],[0.30,4.3],[0.32,4.0],[0.34,4.6],[0.36,4.2],[0.38,4.8],[0.40,5.2],[0.42,4.6],[0.44,5.6],[0.46,5.0],[0.48,4.4],[0.50,6.3],[0.52,4.9],[0.54,5.7],[0.56,5.4],[0.58,6.0],[0.60,7.3],[0.62,7.6],[0.47,7.6],[0.45,8.4],[0.43,8.8],[0.41,7.6],[0.39,6.8],[0.37,5.8],[0.35,6.6],[0.33,5.9],[0.31,5.3],[0.29,4.0],[0.27,4.4],[0.23,3.6],[0.21,3.8],[0.19,3.2],[0.17,3.4],[0.15,3.7],[0.13,2.6],[0.11,1.8],[0.22,2.5],[0.26,2.1],[0.24,1.2],[0.36,0.7],[0.38,0.9],[0.40,0.5],[0.42,0.7],[0.44,0.9],[0.43,1.6],[0.41,1.2],
  [0.20,1.8],[0.21,2.7],[0.22,1.3],[0.23,2.3],[0.24,3.0],[0.25,1.4],[0.25,2.3],[0.26,2.6],[0.27,1.9],[0.27,3.1],[0.28,1.6],[0.28,3.4],[0.29,2.4],[0.30,1.6],[0.30,2.9],[0.31,1.2],[0.31,3.1],[0.32,2.3],[0.32,3.8],[0.33,1.8],[0.33,3.4],[0.34,2.7],[0.34,1.6],[0.35,3.5],[0.35,2.2],[0.36,1.3],[0.36,3.0],[0.37,2.0],[0.37,3.6],[0.38,1.8],[0.38,3.8],[0.39,2.6],[0.39,1.6],[0.40,3.3],[0.40,1.2],[0.41,2.3],[0.41,3.6],[0.42,1.4],[0.42,2.7],[0.43,3.0],[0.43,1.9],[0.44,2.4],[0.44,3.7],[0.45,1.9],[0.45,0.4],[0.46,3.2],[0.47,1.8],[0.47,3.9],[0.48,2.7],[0.49,3.3],[0.29,5.2],[0.31,5.8],[0.33,4.5],[0.35,5.3],[0.37,4.9],[0.39,4.2],[0.41,5.3],[0.43,4.9],[0.45,6.2],[0.47,4.8],[0.49,5.9],[0.51,5.0],[0.53,5.3],[0.55,6.0],
];

const wwl1: [number, number][] = [
  [0,0],[0.02,0.3],[0.03,0.6],[0.03,1.5],[0.04,0.9],[0.05,1.2],[0.05,1.5],[0.06,2.3],[0.06,3.4],[0.07,0.5],[0.07,1.7],[0.07,2.4],[0.08,3.6],[0.08,5.0],[0.09,0.8],[0.09,1.4],[0.09,2.7],[0.10,4.1],[0.10,1.5],[0.10,0.2],[0.11,1.0],[0.11,2.3],[0.11,3.2],[0.12,0.4],[0.12,1.6],[0.12,2.8],[0.13,3.6],[0.13,1.9],[0.13,0.1],[0.14,2.5],[0.14,4.6],[0.14,1.1],[0.15,3.0],[0.15,0.3],[0.15,4.0],[0.15,1.9],[0.16,5.0],[0.16,2.3],[0.16,0.8],[0.17,3.3],[0.17,1.4],[0.17,5.6],[0.18,0.2],[0.18,2.7],[0.18,4.1],[0.19,1.8],[0.19,6.0],[0.19,3.4],[0.19,0.6],[0.20,2.4],[0.20,4.6],[0.20,1.0],[0.21,3.1],[0.21,5.3],[0.21,0.1],[0.22,1.7],[0.22,2.8],[0.22,4.0],[0.23,0.6],[0.23,5.6],[0.23,2.2],[0.23,3.5],[0.24,1.2],[0.24,4.5],[0.24,6.4],[0.25,2.6],[0.25,0.3],[0.25,3.7],[0.26,1.5],[0.26,5.0],[0.26,2.9],[0.27,0.5],[0.27,4.2],[0.27,6.1],[0.27,2.0],[0.28,3.4],[0.28,1.1],[0.28,5.5],[0.29,0.2],[0.29,2.6],[0.29,4.6],[0.30,1.6],[0.30,3.8],[0.30,5.9],[0.30,0.6],[0.31,2.3],[0.31,4.3],[0.32,1.0],[0.32,3.1],[0.32,5.3],[0.33,0.4],[0.33,2.0],[0.33,4.9],[0.34,3.6],[0.34,1.4],[0.34,6.0],[0.35,0.3],[0.35,2.7],[0.35,4.1],[0.36,1.9],[0.36,5.6],[0.36,3.3],[0.37,0.8],[0.37,2.3],[0.37,4.6],[0.38,3.8],[0.38,1.5],[0.38,5.4],[0.39,2.8],[0.39,0.5],[0.39,6.0],[0.40,4.2],[0.40,2.0],[0.40,5.5],[0.41,3.0],[0.41,0.6],[0.41,4.8],[0.42,1.7],[0.42,3.7],[0.42,5.9],[0.43,0.2],[0.43,2.6],[0.43,4.4],[0.44,1.2],[0.44,3.2],[0.44,5.2],[0.45,2.3],[0.45,4.0],[0.46,2.9],[0.46,4.7],[0.47,1.3],[0.47,5.4],[0.48,3.5],[0.48,6.0],[0.49,4.3],[0.49,2.3],[0.50,5.6],[0.50,3.3],[0.51,3.4],[0.53,3.7],[0.53,6.35],[0.56,6.3],[0.575,5.0],[0.575,6.7],[0.55,7.44],[0.29,7.44],[0.27,7.38],[0.34,7.36],[0.32,6.88],[0.21,6.6],[0.44,6.58],[0.39,6.22],
  [0.08,0.3],[0.09,1.9],[0.10,2.5],[0.11,1.6],[0.12,1.1],[0.13,2.9],[0.14,0.5],[0.16,1.5],[0.17,2.2],[0.18,1.2],[0.19,2.6],[0.20,0.2],[0.21,1.6],[0.22,0.2],[0.24,0.1],[0.26,0.2],[0.28,0.1],[0.30,0.3],[0.32,0.3],[0.34,0.2],[0.36,0.3],[0.38,0.5],[0.40,0.3],[0.15,3.5],[0.13,3.3],[0.16,2.9],[0.14,3.0],
  [0.06,1.8],[0.07,2.9],[0.08,1.2],[0.09,2.2],[0.10,1.2],[0.10,3.0],[0.11,0.5],[0.11,2.7],[0.12,2.0],[0.12,3.4],[0.13,1.4],[0.13,2.4],[0.14,1.7],[0.14,3.6],[0.15,2.4],[0.15,1.2],[0.16,3.7],[0.16,0.3],[0.17,0.6],[0.17,2.6],[0.18,3.4],[0.18,1.7],[0.19,4.4],[0.20,1.6],[0.20,3.6],[0.21,2.4],[0.22,4.6],[0.22,1.2],[0.23,3.0],[0.24,2.0],[0.24,3.3],[0.25,4.4],[0.26,3.6],[0.26,0.8],[0.27,2.8],[0.28,2.1],[0.28,4.3],[0.29,3.4],[0.30,2.7],[0.31,0.8],[0.31,3.3],[0.32,4.0],[0.33,2.8],[0.34,2.4],[0.35,1.5],[0.36,4.4],[0.37,3.4],[0.38,2.2],[0.39,4.0],[0.40,1.1],[0.41,2.4],[0.43,3.4],[0.45,2.8],[0.47,3.0],[0.49,3.4],[0.27,5.3],[0.25,5.8],[0.31,5.0],[0.35,5.3],[0.23,4.8],[0.19,5.0],[0.16,4.3],[0.13,4.3],[0.11,4.0],
  [0.08,2.0],[0.09,1.2],[0.10,2.0],[0.11,1.4],[0.11,2.0],[0.12,1.3],[0.12,2.4],[0.13,2.1],[0.13,3.0],[0.14,2.0],[0.14,2.8],[0.15,1.6],[0.15,2.7],[0.16,2.0],[0.16,3.3],[0.17,1.9],[0.18,2.3],[0.19,1.4],[0.20,2.9],[0.21,2.0],[0.22,3.4],[0.23,1.5],[0.24,2.8],[0.25,2.2],[0.26,2.4],[0.27,3.4],[0.28,2.8],[0.29,1.3],[0.30,2.2],[0.31,1.8],[0.32,2.6],[0.33,3.4],[0.34,2.9],[0.35,3.4],[0.36,2.4],[0.38,3.1],[0.40,3.6],[0.42,2.6],[0.26,4.2],[0.29,4.1],[0.32,4.6],[0.35,4.6],[0.30,4.9],
];

const wwl0: [number, number][] = [
  [0,0],[0,3.5],[0.01,2.2],[0.01,0.9],[0.02,5.6],[0.02,2.2],[0.02,0.9],[0.03,4.3],[0.03,1.8],[0.03,0.4],[0.04,4.9],[0.04,5.3],[0.04,2.8],[0.04,1.3],[0.05,6.1],[0.05,3.8],[0.05,0.5],[0.05,2.1],[0.06,3.4],[0.06,1.3],[0.06,0.1],[0.07,4.0],[0.07,2.5],[0.07,0.8],[0.08,5.8],[0.08,3.2],[0.08,1.6],[0.08,0.3],[0.09,4.5],[0.09,2.2],[0.09,0.9],[0.10,3.5],[0.10,6.2],[0.10,1.4],[0.10,0.2],[0.11,2.7],[0.11,4.9],[0.11,0.7],[0.12,1.8],[0.12,3.8],[0.12,6.3],[0.12,0.4],[0.13,2.4],[0.13,5.5],[0.13,1.1],[0.14,3.2],[0.14,0.3],[0.14,4.4],[0.15,1.7],[0.15,6.3],[0.15,2.8],[0.15,0.7],[0.16,3.9],[0.16,1.2],[0.16,5.1],[0.17,0.2],[0.17,2.3],[0.17,4.6],[0.18,3.4],[0.18,6.6],[0.18,1.0],[0.18,5.4],[0.19,2.0],[0.19,3.9],[0.19,0.5],[0.20,7.0],[0.20,2.8],[0.20,4.5],[0.20,1.5],[0.21,7.6],[0.21,0.3],[0.21,3.5],[0.21,5.5],[0.22,2.1],[0.22,4.1],[0.22,1.0],[0.23,7.2],[0.23,6.1],[0.23,3.0],[0.23,0.5],[0.24,7.8],[0.24,2.5],[0.24,4.8],[0.24,1.5],[0.25,3.6],[0.25,5.6],[0.25,0.7],[0.26,7.7],[0.26,2.0],[0.26,4.4],[0.27,6.5],[0.27,1.2],[0.27,3.3],[0.27,5.1],[0.28,4.8],[0.28,6.1],[0.28,2.3],[0.29,3.8],[0.29,5.9],[0.29,1.8],[0.30,6.3],[0.30,4.8],[0.30,2.4],[0.31,6.3],[0.31,3.3],[0.31,1.5],[0.32,7.3],[0.32,6.8],[0.32,5.1],[0.32,4.3],[0.32,3.0],
  [0.06,0.6],[0.07,1.7],[0.09,1.9],[0.10,2.8],[0.11,1.5],[0.12,0.9],[0.13,0.2],[0.14,1.5],[0.15,0.2],[0.16,2.2],[0.17,1.3],[0.18,0.3],[0.19,1.1],[0.20,0.6],[0.21,1.8],[0.22,0.3],[0.23,1.9],[0.24,0.6],[0.25,1.2],[0.26,0.9],[0.27,0.3],[0.28,1.3],[0.10,1.9],[0.08,2.6],[0.12,2.9],[0.14,2.4],[0.16,3.2],[0.18,2.6],[0.20,3.3],[0.22,2.9],[0.24,3.5],
  [0.27,8.7],[0.34,8.4],[0.34,8.3],[0.46,7.25],[0.40,6.7],[0.44,5.9],[0.44,5.4],[0.41,5.7],[0.41,5.4],[0.39,4.8],[0.37,4.8],[0.37,5.5],[0.41,4.1],[0.37,3.9],[0.38,3.9],[0.385,3.85],[0.33,4.2],[0.34,3.7],[0.35,3.1],[0.36,3.0],[0.36,2.5],[0.37,2.2],[0.36,1.1],[0.34,0.2],[0.33,0.15],[0.29,0.6],[0.30,0.4],[0.52,5.0],
  [0.03,2.6],[0.04,0.9],[0.05,1.3],[0.06,2.6],[0.07,3.2],[0.08,1.0],[0.09,3.7],[0.10,0.7],[0.10,4.3],[0.11,2.0],[0.11,3.3],[0.12,1.4],[0.12,4.6],[0.13,1.8],[0.13,3.3],[0.14,2.0],[0.14,5.3],[0.15,1.2],[0.15,3.6],[0.16,0.6],[0.16,4.6],[0.17,1.8],[0.17,3.7],[0.18,1.6],[0.18,4.2],[0.19,2.6],[0.19,5.0],[0.20,2.2],[0.20,5.5],[0.21,1.2],[0.21,2.6],[0.22,3.5],[0.22,5.0],[0.23,1.3],[0.23,4.0],[0.24,2.1],[0.24,4.0],[0.25,2.6],[0.25,4.6],[0.26,1.6],[0.26,3.5],[0.27,2.0],[0.27,4.0],[0.28,3.0],[0.28,0.7],[0.29,2.6],[0.29,4.6],[0.30,1.9],[0.30,3.5],[0.31,2.2],[0.31,4.6],[0.08,4.8],[0.06,5.0],[0.09,5.4],[0.11,5.8],[0.13,4.0],[0.17,5.6],[0.19,6.3],[0.22,6.5],[0.26,6.0],[0.28,7.0],
  [0.05,1.8],[0.06,1.9],[0.07,1.2],[0.08,2.1],[0.09,1.3],[0.09,2.8],[0.10,2.3],[0.11,1.1],[0.12,2.3],[0.12,1.8],[0.13,2.8],[0.13,0.7],[0.14,1.0],[0.14,2.8],[0.15,2.2],[0.16,1.6],[0.16,2.7],[0.17,2.8],[0.17,0.8],[0.18,2.0],[0.19,1.6],[0.19,3.3],[0.20,2.4],[0.20,1.0],[0.21,3.0],[0.22,1.6],[0.22,2.4],[0.23,2.5],[0.24,3.0],[0.25,2.0],[0.26,3.0],[0.27,2.6],[0.28,1.8],[0.10,3.0],[0.12,3.3],[0.14,3.7],[0.16,3.6],[0.18,3.8],
];

// frame layout (pixels)
const columns = [[72, 302], [331, 560], [573.5, 802.5], [819, 1049]];
const rows = [[27, 199], [244, 414]];

const panels = [
  { data: tmd3, col: 0, row: 0, xt: xTicksTmd3, yt: yTicksTmd3, xf: "d", yf: "d" },
  { data: tmd2, col: 1, row: 0, xt: xTicksTmd2, yt: yTicksTmd2, xf: "d", yf: ".1f" },
  { data: tmd1, col: 2, row: 0, xt: xTicksTmd1, yt: yTicksTmd1, xf: "d", yf: "d" },
  { data: tmd0, col: 3, row: 0, xt: xTicksTmd0, yt: yTicksTmd0, xf: "d", yf: "d" },
  { data: wwl3, col: 0, row: 1, xt: xTicksWwl3, yt: yTicksWwl3, xf: ".1f", yf: "d" },
  { data: wwl2, col: 1, row: 1, xt: xTicksWwl2, yt: yTicksWwl2, xf: ".1f", yf: "d" },
  { data: wwl1, col: 2, row: 1, xt: xTicksWwl1, yt: yTicksWwl1, xf: ".1f", yf: "d" },
  { data: wwl0, col: 3, row: 1, xt: xTicksWwl0, yt: yTicksWwl0, xf: ".1f", yf: "d" },
];

// matplotlib-like 5% margins
const padded = (ext: [number, number]): [number, number] => {
  const d = (ext[1] - ext[0]) * 0.05;
  return [ext[0] - d, ext[1] + d];
};

// x label like TMD(G_a, G_b)
const XLabel = ({ name, x, y }: { name: string; x: number; y: number }) => (
  <text x={x} y={y} textAnchor="middle" fontFamily={serif} fontSize={18} fill="#111">
    {name}(<tspan fontStyle="italic">G</tspan>
    <tspan fontStyle="italic" fontSize={12.5} dy={4}>a</tspan>
    <tspan dy={-4}>, </tspan>
    <tspan fontStyle="italic">G</tspan>
    <tspan fontStyle="italic" fontSize={12.5} dy={4}>b</tspan>
    <tspan dy={-4}>)</tspan>
  </text>
);

// y label ||h(G_a) - h(G_b)||
const YLabel = ({ x, y }: { x: number; y: number }) => (
  <text transform={`translate(${x},${y}) rotate(-90)`} textAnchor="middle" fontFamily={serif} fontSize={18.5} fill="#111">
    ‖<tspan fontStyle="italic">h</tspan>(<tspan fontStyle="italic">G</tspan>
    <tspan fontStyle="italic" fontSize={13} dy={4}>a</tspan>
    <tspan dy={-4}>) − </tspan>
    <tspan fontStyle="italic">h</tspan>(<tspan fontStyle="italic">G</tspan>
    <tspan fontStyle="italic" fontSize={13} dy={4}>b</tspan>
    <tspan dy={-4}>)‖</tspan>
  </text>
);

const Panel = ({ p, i }: { p: typeof panels[number]; i: number }) => {
  const [x0, x1] = columns[p.col];
  const [y0, y1] = rows[p.row];
  const xScale = d3.scaleLinear().domain(padded(d3.extent(p.data, d => d[0]) as [number, number])).range([x0, x1]);
  const yScale = d3.scaleLinear().domain(padded(d3.extent(p.data, d => d[1]) as [number, number])).range([y1, y0]);
  const xFmt = d3.format(p.xf);
  const yFmt = d3.format(p.yf);
  const clipId = `clip-${i}`;
  return (
    <g>
      <clipPath id={clipId}>
        <rect x={x0} y={y0} width={x1 - x0} height={y1 - y0} />
      </clipPath>
      <g clipPath={`url(#${clipId})`}>
        {p.data.map((d, j) => (
          <circle key={j} cx={xScale(d[0])} cy={yScale(d[1])} r={1.65} fill={dotColour} />
        ))}
      </g>
      <rect x={x0} y={y0} width={x1 - x0} height={y1 - y0} fill="none" stroke="#8a8a8a" strokeWidth={1} />
      {p.xt.map(t => (
        <g key={`x${t}`} transform={`translate(${xScale(t)},${y1})`}>
          <line y2={3.5} stroke="#555" strokeWidth={0.8} />
          <text y={14} textAnchor="middle" fontFamily={sans} fontSize={10} fill="#222">{xFmt(t)}</text>
        </g>
      ))}
      {p.yt.map(t => (
        <g key={`y${t}`} transform={`translate(${x0},${yScale(t)})`}>
          <line x2={-3.5} stroke="#555" strokeWidth={0.8} />
          <text x={-6} dy="0.35em" textAnchor="end" fontFamily={sans} fontSize={10} fill="#222">{yFmt(t)}</text>
        </g>
      ))}
      <text x={x0 + 7} y={y0 + 25} fontFamily={serif} fontSize={23} fill="#707070">
        <tspan fontStyle="italic">r</tspan> = {correlations[i]}
      </text>
      <XLabel name={rowMetric[p.row]} x={(x0 + x1) / 2} y={y1 + 30} />
    </g>
  );
};

const App = () => {
  return (
    <svg width={width} height={height} style={{ position: "absolute", left: 0, top: 0, background: "#fff" }}>
      <rect width={width} height={height} fill="#fff" />
      {columnTitles.map((t, c) => (
        <text key={t} x={(columns[c][0] + columns[c][1]) / 2} y={19} textAnchor="middle" fontFamily={serif} fontSize={22} fill="#111">{t}</text>
      ))}
      {rowLabels.map((t, r) => (
        <g key={t}>
          <text transform={`translate(27,${(rows[r][0] + rows[r][1]) / 2}) rotate(-90)`} textAnchor="middle" fontFamily={serif} fontSize={24} fill="#111">{t}</text>
          <YLabel x={57} y={(rows[r][0] + rows[r][1]) / 2} />
        </g>
      ))}
      {panels.map((p, i) => <Panel key={i} p={p} i={i} />)}
    </svg>
  );
};

export default App;
